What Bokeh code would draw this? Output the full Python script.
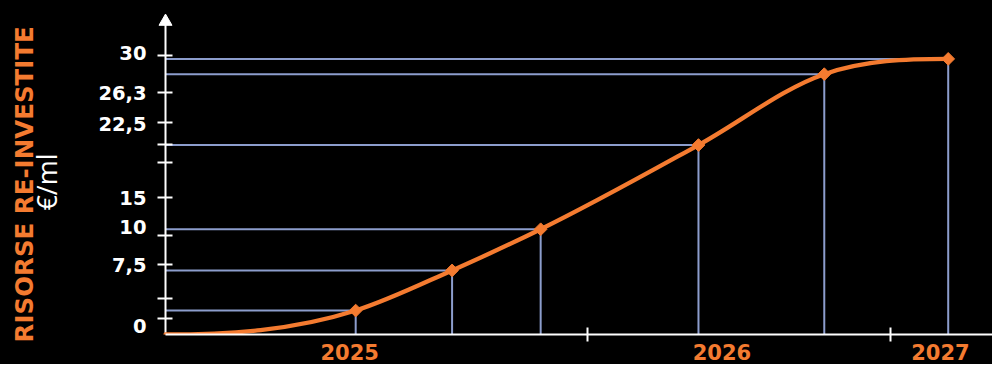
import numpy as np
from bokeh.plotting import figure
from bokeh.models import FixedTicker, LinearAxis, Range1d, InlineStyleSheet
from bokeh.embed import file_html
from bokeh.resources import INLINE

# ---- data (x: fractional year, y: €/ml) ----
x_start = 2024.505          # origin of the curve (y axis position)
y_start = 0.0
x_end = 2026.727
y_axis_top = 33.6           # top of the y axis (arrow)

point_x = [2025.016, 2025.275, 2025.513, 2025.937, 2026.275, 2026.608]
point_y = [2.57, 6.88, 11.30, 20.34, 27.95, 29.59]

year_labels = ["2025", "2026", "2027"]
year_label_pos = [2025.0, 2026.0, 2026.587]
x_tick_pos = [2025.638, 2026.452]

y_labels = ["30", "26,3", "22,5", "15", "10", "7,5", "0"]
y_label_pos = [30.2, 25.92, 22.6, 14.62, 11.54, 7.43, 0.86]
y_tick_pos = [30.0, 25.99, 22.71, 20.37, 18.46, 14.66, 10.61, 7.47, 3.87, 1.75]

y_title = "RISORSE RE-INVESTITE"
y_unit = "€/ml"

ORANGE = "#F47B30"
BLUE = "#8C9DCC"
WHITE = "#FFFFFF"
NBSP = "\u00a0"

p = figure(width=992, height=364,
           x_range=Range1d(x_start - 0.0215, x_end),
           y_range=Range1d(y_start, 35.0),
           output_backend="svg", toolbar_location=None,
           background_fill_color="black", border_fill_color=None,
           outline_line_color=None,
           min_border_left=157, min_border_right=0,
           min_border_top=8, min_border_bottom=30,
           stylesheets=[InlineStyleSheet(css=":host { background-color: #000000; }")])
p.grid.visible = False

# ---- x axis ----
xa = p.xaxis[0]
xa.ticker = FixedTicker(ticks=year_label_pos, minor_ticks=x_tick_pos)
xa.major_label_overrides = {v: t for v, t in zip(year_label_pos, year_labels)}
xa.bounds = (x_start, x_end)
xa.major_tick_in = 0
xa.major_tick_out = 0
xa.minor_tick_in = 7
xa.minor_tick_out = 7
xa.minor_tick_line_color = WHITE
xa.minor_tick_line_width = 2
xa.axis_line_color = WHITE
xa.axis_line_width = 2
xa.major_label_text_color = ORANGE
xa.major_label_text_font = "DejaVu Sans"
xa.major_label_text_font_style = "bold"
xa.major_label_text_font_size = "21px"
xa.major_label_standoff = 2

# ---- y axis (ticks + labels; the axis line itself is drawn at x_start) ----
ya = p.yaxis[0]
ya.ticker = FixedTicker(ticks=y_label_pos, minor_ticks=y_tick_pos)
ya.major_label_overrides = {v: t for v, t in zip(y_label_pos, y_labels)}
ya.major_tick_in = 0
ya.major_tick_out = 0
ya.minor_tick_in = 15
ya.minor_tick_out = 0
ya.minor_tick_line_color = WHITE
ya.minor_tick_line_width = 2
ya.axis_line_color = None
ya.major_label_text_color = WHITE
ya.major_label_text_font = "DejaVu Sans"
ya.major_label_text_font_style = "bold"
ya.major_label_text_font_size = "19.5px"
ya.major_label_standoff = 11
ya.axis_label = y_unit + NBSP * 3
ya.axis_label_text_color = WHITE
ya.axis_label_text_font = "Open Sans"
ya.axis_label_text_font_style = "normal"
ya.axis_label_text_font_size = "27px"
ya.axis_label_standoff = 30

ya2 = LinearAxis(ticker=FixedTicker(ticks=[]),
                 axis_label=y_title + NBSP * 3,
                 axis_line_color=None, major_tick_line_color=None,
                 minor_tick_line_color=None,
                 major_tick_in=0, major_tick_out=0,
                 minor_tick_in=0, minor_tick_out=0,
                 major_label_standoff=0,
                 axis_label_standoff=-13,
                 axis_label_text_color=ORANGE,
                 axis_label_text_font="DejaVu Sans",
                 axis_label_text_font_style="bold",
                 axis_label_text_font_size="24.5px")
p.add_layout(ya2, "left")

# ---- guide lines ----
px = np.array(point_x)
py = np.array(point_y)
p.segment(x0=np.full_like(px, x_start), y0=py, x1=px, y1=py,
          line_color=BLUE, line_width=2)
p.segment(x0=px, y0=py, x1=px, y1=np.full_like(py, y_start),
          line_color=BLUE, line_width=2)

# ---- y axis line with arrow head ----
p.segment(x0=[x_start], y0=[y_start], x1=[x_start], y1=[y_axis_top],
          line_color=WHITE, line_width=2)
p.scatter([x_start], [y_axis_top], marker="triangle", size=13,
          fill_color=WHITE, line_color=WHITE)

# ---- smooth curve through the data (cubic Hermite -> Bezier segments) ----
cx = np.concatenate([[x_start], px])
cy = np.concatenate([[y_start], py])
h = np.diff(cx)
d = np.diff(cy) / h
m = np.zeros(len(cx))          # flat start and flat end
m[1:-1] = (d[:-1] * h[1:] + d[1:] * h[:-1]) / (h[:-1] + h[1:])
p.bezier(x0=cx[:-1], y0=cy[:-1], x1=cx[1:], y1=cy[1:],
         cx0=cx[:-1] + h / 3, cy0=cy[:-1] + m[:-1] * h / 3,
         cx1=cx[1:] - h / 3, cy1=cy[1:] - m[1:] * h / 3,
         line_color=ORANGE, line_width=4.3, line_cap="round")

p.scatter(px, py, marker="square", angle=np.pi / 4, size=9,
          fill_color=ORANGE, line_color=ORANGE)

open("out.html", "w").write(file_html(p, INLINE))
